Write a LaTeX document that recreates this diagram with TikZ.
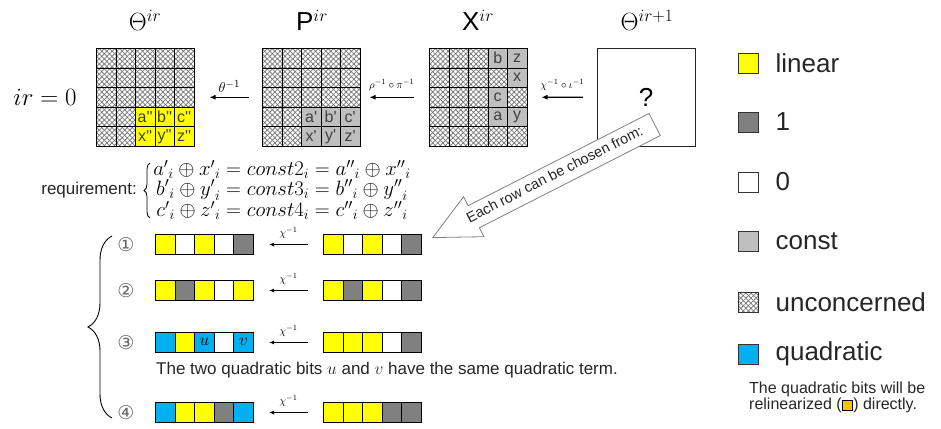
\documentclass[tikz,border=0pt]{standalone}
\usepackage{fontspec}
\setmainfont{Liberation Sans}
\newfontfamily\symfont{DejaVu Sans}
\usetikzlibrary{arrows.meta, positioning, calc, patterns.meta, shapes.arrows, decorations.pathreplacing}
\definecolor{BitLinear}{RGB}{255, 255, 0}
\definecolor{BitOne}{RGB}{128, 128, 128}
\definecolor{BitConst}{RGB}{191, 191, 191}
\definecolor{BitQuad}{RGB}{0, 176, 240}
\definecolor{BitRelin}{RGB}{255, 192, 0}
\definecolor{InkDark}{RGB}{38, 38, 38}
\definecolor{InkMuted}{RGB}{64, 64, 64}
\newcommand{\pq}{\textquotesingle}

\begin{document}
\begin{tikzpicture}[x=1pt, y=-1pt,
    cell/.style={draw=black, line width=0.9pt, minimum size=19.5pt, inner sep=0pt,
      anchor=north west, text=InkMuted, font=\fontsize{16}{16}\selectfont},
    lin/.style={cell, fill=BitLinear},
    one/.style={cell, fill=BitOne},
    zero/.style={cell, fill=white},
    cst/.style={cell, fill=BitConst},
    quad/.style={cell, fill=BitQuad, text=black},
    hatch/.style={preaction={fill=white},
      preaction={pattern={Lines[angle=45, distance=3.6pt, line width=0.7pt]}, pattern color=black!55},
      preaction={pattern={Lines[angle=-45, distance=3.6pt, line width=0.7pt]}, pattern color=black!55}},
    unc/.style={cell, hatch},
    frame/.style={draw=black, line width=1pt, minimum size=97.5pt, inner sep=0pt, anchor=north west},
    bar/.style={draw=black, line width=1pt, minimum width=98pt, minimum height=20pt, inner sep=0pt, anchor=north west},
    back/.style={-{Latex[length=6pt, width=5pt]}, line width=1.1pt},
    title/.style={font=\fontsize{26}{28}\selectfont},
    key/.style={draw=black!80, line width=0.8pt, minimum size=20pt, inner sep=0pt},
    keytext/.style={right=17pt of #1, font=\fontsize{26}{28}\selectfont, text=InkDark, inner sep=0pt},
    hollow/.style={single arrow, draw=black!50, fill=white, line width=0.8pt, shape border rotate=180,
      single arrow head extend=10pt, single arrow tip angle=52, minimum height=249pt,
      text height=10.5pt, text depth=3pt, inner ysep=5.25pt, inner xsep=2pt,
      font=\fontsize{14.5}{16}\selectfont, text=InkDark}]
  \path[use as bounding box] (0,0) rectangle (941,428);

  % titles
  \node[title] (tT) at (145,20) {$\Theta^{ir}$};
  \node[title] (tP) at (312,20) {$\mathrm{P}^{ir}$};
  \node[title] (tX) at (478,20) {$\mathrm{X}^{ir}$};
  \node[title] (tN) at (647,20) {$\Theta^{ir+1}$};
  \node[font=\fontsize{28}{30}\selectfont] (round) at (45,97) {$ir=0$};

  % state Theta^ir
  \begin{scope}[shift={(96,48)}, x=19.5pt, y=-19.5pt]
    \foreach \r in {0,...,4}
      \foreach \c in {0,...,4}
        \node[unc] at (\c,\r) {};
    \node[lin] at (2,3) {a\pq\pq}; \node[lin] at (3,3) {b\pq\pq}; \node[lin] at (4,3) {c\pq\pq};
    \node[lin] at (2,4) {x\pq\pq}; \node[lin] at (3,4) {y\pq\pq}; \node[lin] at (4,4) {z\pq\pq};
    \node[frame] (gT) at (0,0) {};
  \end{scope}

  % state P^ir
  \begin{scope}[shift={(262,48)}, x=19.5pt, y=-19.5pt]
    \foreach \r in {0,...,4}
      \foreach \c in {0,...,4}
        \node[unc] at (\c,\r) {};
    \node[cst] at (2,3) {a\pq}; \node[cst] at (3,3) {b\pq}; \node[cst] at (4,3) {c\pq};
    \node[cst] at (2,4) {x\pq}; \node[cst] at (3,4) {y\pq}; \node[cst] at (4,4) {z\pq};
    \node[frame] (gP) at (0,0) {};
  \end{scope}

  % state X^ir
  \begin{scope}[shift={(429,48)}, x=19.5pt, y=-19.5pt]
    \foreach \r in {0,...,4}
      \foreach \c in {0,...,4}
        \node[unc] at (\c,\r) {};
    \node[cst] at (3,0) {b}; \node[cst] at (4,0) {z};
    \node[cst] at (4,1) {x};
    \node[cst] at (3,2) {c};
    \node[cst] at (3,3) {a}; \node[cst] at (4,3) {y};
    \node[frame] (gX) at (0,0) {};
  \end{scope}

  % state Theta^{ir+1}
  \node[frame, line width=0.9pt, draw=black!85] (gN) at (597,48) {};
  \node[font=\fontsize{26}{28}\selectfont] at (gN.center) {?};

  % inverse steps
  \draw[back] ([xshift=-13pt]gP.west) -- node[above=1pt, font=\fontsize{15}{16}\selectfont] {$\theta^{-1}$} ([xshift=15pt]gT.east);
  \draw[back] ([xshift=-15pt]gX.west) -- node[above=3pt, font=\fontsize{11}{12}\selectfont] {$\rho^{-1}\circ\pi^{-1}$} ([xshift=9pt]gP.east);
  \draw[back] ([xshift=-14pt]gN.west) -- node[above=3pt, font=\fontsize{11}{12}\selectfont] {$\chi^{-1}\circ\iota^{-1}$} ([xshift=14pt]gX.east);

  % requirement
  \node[font=\fontsize{17}{19}\selectfont, text=InkDark, anchor=east, inner sep=0pt] (req) at (137,190) {requirement:};
  \node[align=center, inner sep=0pt, font=\fontsize{20.5}{18}\selectfont] (eqs) at (282,190) {%
    ${a'}_i\oplus {x'}_i = const2_i = {a''}_i\oplus {x''}_i$\\
    ${b'}_i\oplus {y'}_i = const3_i = {b''}_i\oplus {y''}_i$\\
    ${c'}_i\oplus {z'}_i = const4_i = {c''}_i\oplus {z''}_i$};
  \draw[decorate, decoration={brace, amplitude=6pt}, line width=0.8pt] (150,218) -- (150,163);

  % candidate rows
  \begin{scope}[shift={(155,234)}, x=19.6pt, y=-1pt]
    \node[lin] at (0,0) {}; \node[zero] at (1,0) {}; \node[lin] at (2,0) {}; \node[zero] at (3,0) {}; \node[one] at (4,0) {};
    \node[bar] (L1) at (0,0) {};
    \node[lin] at (0,46) {}; \node[one] at (1,46) {}; \node[lin] at (2,46) {}; \node[zero] at (3,46) {}; \node[lin] at (4,46) {};
    \node[bar] (L2) at (0,46) {};
    \node[quad] at (0,98) {}; \node[lin] at (1,98) {}; \node[quad] at (2,98) {$u$}; \node[zero] at (3,98) {}; \node[quad] at (4,98) {$v$};
    \node[bar] (L3) at (0,98) {};
    \node[quad] at (0,168) {}; \node[lin] at (1,168) {}; \node[lin] at (2,168) {}; \node[one] at (3,168) {}; \node[quad] at (4,168) {};
    \node[bar] (L4) at (0,168) {};
  \end{scope}
  \begin{scope}[shift={(323,234)}, x=19.6pt, y=-1pt]
    \node[lin] at (0,0) {}; \node[zero] at (1,0) {}; \node[lin] at (2,0) {}; \node[zero] at (3,0) {}; \node[one] at (4,0) {};
    \node[bar] (R1) at (0,0) {};
    \node[lin] at (0,46) {}; \node[one] at (1,46) {}; \node[lin] at (2,46) {}; \node[zero] at (3,46) {}; \node[one] at (4,46) {};
    \node[bar] (R2) at (0,46) {};
    \node[lin] at (0,98) {}; \node[lin] at (1,98) {}; \node[lin] at (2,98) {}; \node[zero] at (3,98) {}; \node[one] at (4,98) {};
    \node[bar] (R3) at (0,98) {};
    \node[lin] at (0,168) {}; \node[lin] at (1,168) {}; \node[lin] at (2,168) {}; \node[one] at (3,168) {}; \node[one] at (4,168) {};
    \node[bar] (R4) at (0,168) {};
  \end{scope}
  \foreach \i/\n in {1/\char"2460, 2/\char"2461, 3/\char"2462, 4/\char"2463} {
    \draw[back, line width=1pt, -{Latex[length=5pt, width=4pt]}] ([xshift=-15pt]R\i.west) -- node[above=2pt, font=\fontsize{11}{12}\selectfont] {$\chi^{-1}$} ([xshift=15pt]L\i.east);
    \node[font=\symfont\fontsize{19}{19}\selectfont, text=black!60, left=17pt of L\i] {\n};
  }
  \node[anchor=west, font=\fontsize{17}{19}\selectfont, text=InkDark, inner sep=0pt] (note) at (156,370) {The two quadratic bits $u$ and $v$ have the same quadratic term.};
  \draw[decorate, decoration={brace, amplitude=24pt, aspect=0.5}, line width=0.9pt] (112,418) -- (112,236);

  % hint arrow
  \coordinate (hintTip) at (432,238);
  \node[hollow, rotate=27, anchor=tip] (hint) at (hintTip) {Each row can be chosen from:};

  % legend
  \node[key, fill=BitLinear] (kLin) at (748,63) {};
  \node[keytext=kLin] {linear};
  \node[key, fill=BitOne] (kOne) at (748,122) {};
  \node[keytext=kOne] {1};
  \node[key, fill=white] (kZero) at (748,182) {};
  \node[keytext=kZero] {0};
  \node[key, fill=BitConst] (kConst) at (748,241) {};
  \node[keytext=kConst] {const};
  \node[key, hatch] (kUnc) at (748,302) {};
  \node[keytext=kUnc] {unconcerned};
  \node[key, fill=BitQuad] (kQuad) at (748,354) {};
  \node[keytext=kQuad] {quadratic};
  \node[anchor=west, align=left, inner sep=0pt, font=\fontsize{16}{16}\selectfont, text=InkDark] (relin) at (749,397.5)
    {The quadratic bits will be\\relinearized ({\fboxsep=0pt\fboxrule=0.8pt\fcolorbox{black}{BitRelin}{\rule{0pt}{9pt}\hspace{10pt}}}) directly.};
\end{tikzpicture}
\end{document}
